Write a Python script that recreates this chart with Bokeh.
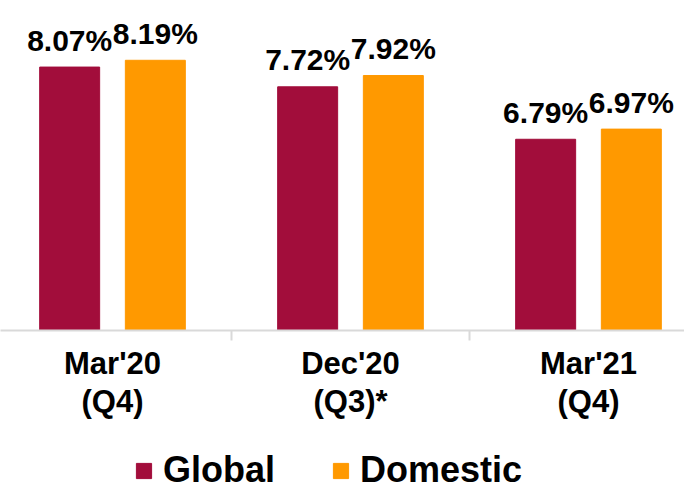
import numpy as np
from bokeh.plotting import figure
from bokeh.layouts import column
from bokeh.models import ColumnDataSource, FixedTicker, Range1d, Legend, LegendItem
from bokeh.transform import dodge
from bokeh.core.properties import value
from bokeh.embed import file_html
from bokeh.resources import INLINE

categories = ["Mar'20\n(Q4)", "Dec'20\n(Q3)*", "Mar'21\n(Q4)"]
global_vals = [8.07, 7.72, 6.79]
domestic_vals = [8.19, 7.92, 6.97]
series_names = ["Global", "Domestic"]

GLOBAL_COLOR = "#A20D3B"
DOMESTIC_COLOR = "#FF9900"
FONT = "Liberation Sans"

xpos = list(np.arange(len(categories)) + 0.5)
src = ColumnDataSource(dict(
    x=xpos,
    g=global_vals,
    d=domestic_vals,
    gl=[f"{v:.2f}%" for v in global_vals],
    dl=[f"{v:.2f}%" for v in domestic_vals],
))

p = figure(width=684, height=436, output_backend="svg", toolbar_location=None,
           x_range=Range1d(0.0294, 2.9034), y_range=Range1d(3.4, 9.25),
           min_border_left=0, min_border_right=0, min_border_top=0, min_border_bottom=106)

p.vbar(x=dodge("x", -0.18, range=p.x_range), top="g", bottom=0, width=0.252,
       source=src, fill_color=GLOBAL_COLOR, line_color=GLOBAL_COLOR)
p.vbar(x=dodge("x", 0.18, range=p.x_range), top="d", bottom=0, width=0.252,
       source=src, fill_color=DOMESTIC_COLOR, line_color=DOMESTIC_COLOR)

for col, lab, off in (("g", "gl", -0.18), ("d", "dl", 0.18)):
    p.text(x=dodge("x", off, range=p.x_range), y=col, text=lab, source=src,
           text_align="center", text_baseline="alphabetic", y_offset=-27,
           text_font=value(FONT), text_font_style="bold", text_font_size="30px",
           text_color="black")

p.yaxis.visible = False
p.xgrid.visible = False
p.ygrid.visible = False
p.outline_line_color = None

ax = p.xaxis[0]
ax.ticker = FixedTicker(ticks=xpos, minor_ticks=list(np.arange(len(categories) + 1)))
ax.major_label_overrides = {float(x): c for x, c in zip(xpos, categories)}
ax.major_tick_line_color = None
ax.major_tick_out = 0
ax.major_tick_in = 0
ax.minor_tick_line_color = "#d9d9d9"
ax.minor_tick_line_width = 2
ax.minor_tick_out = 10
ax.minor_tick_in = 0
ax.axis_line_color = "#d9d9d9"
ax.axis_line_width = 2
ax.major_label_standoff = 5
ax.major_label_text_font = FONT
ax.major_label_text_font_style = "bold"
ax.major_label_text_font_size = "31px"
ax.major_label_text_line_height = 1.1
ax.major_label_text_color = "black"

# Legend strip below the chart (its bars fall outside this strip's ranges)
p2 = figure(width=684, height=55, output_backend="svg", toolbar_location=None,
            x_range=Range1d(0, 1), y_range=Range1d(0, 1),
            min_border_left=0, min_border_right=0, min_border_top=0, min_border_bottom=0)
p2.axis.visible = False
p2.xgrid.visible = False
p2.ygrid.visible = False
p2.outline_line_color = None
lg = p2.vbar(x="g", top="g", bottom="d", width=0.1, source=src,
             fill_color=GLOBAL_COLOR, line_color=GLOBAL_COLOR)
ld = p2.vbar(x="d", top="d", bottom="g", width=0.1, source=src,
             fill_color=DOMESTIC_COLOR, line_color=DOMESTIC_COLOR)

legend = Legend(items=[LegendItem(label=series_names[0], renderers=[lg], index=0),
                       LegendItem(label=series_names[1], renderers=[ld], index=0)],
                orientation="horizontal", location=(134, 0),
                glyph_width=19, glyph_height=19, label_standoff=10, spacing=56,
                label_text_font=FONT, label_text_font_style="bold",
                label_text_font_size="36px", label_text_color="black",
                border_line_color=None, background_fill_alpha=0,
                padding=0, margin=0)
p2.add_layout(legend, "center")

layout = column(p, p2, spacing=0)
open("out.html", "w").write(file_html(layout, INLINE))
